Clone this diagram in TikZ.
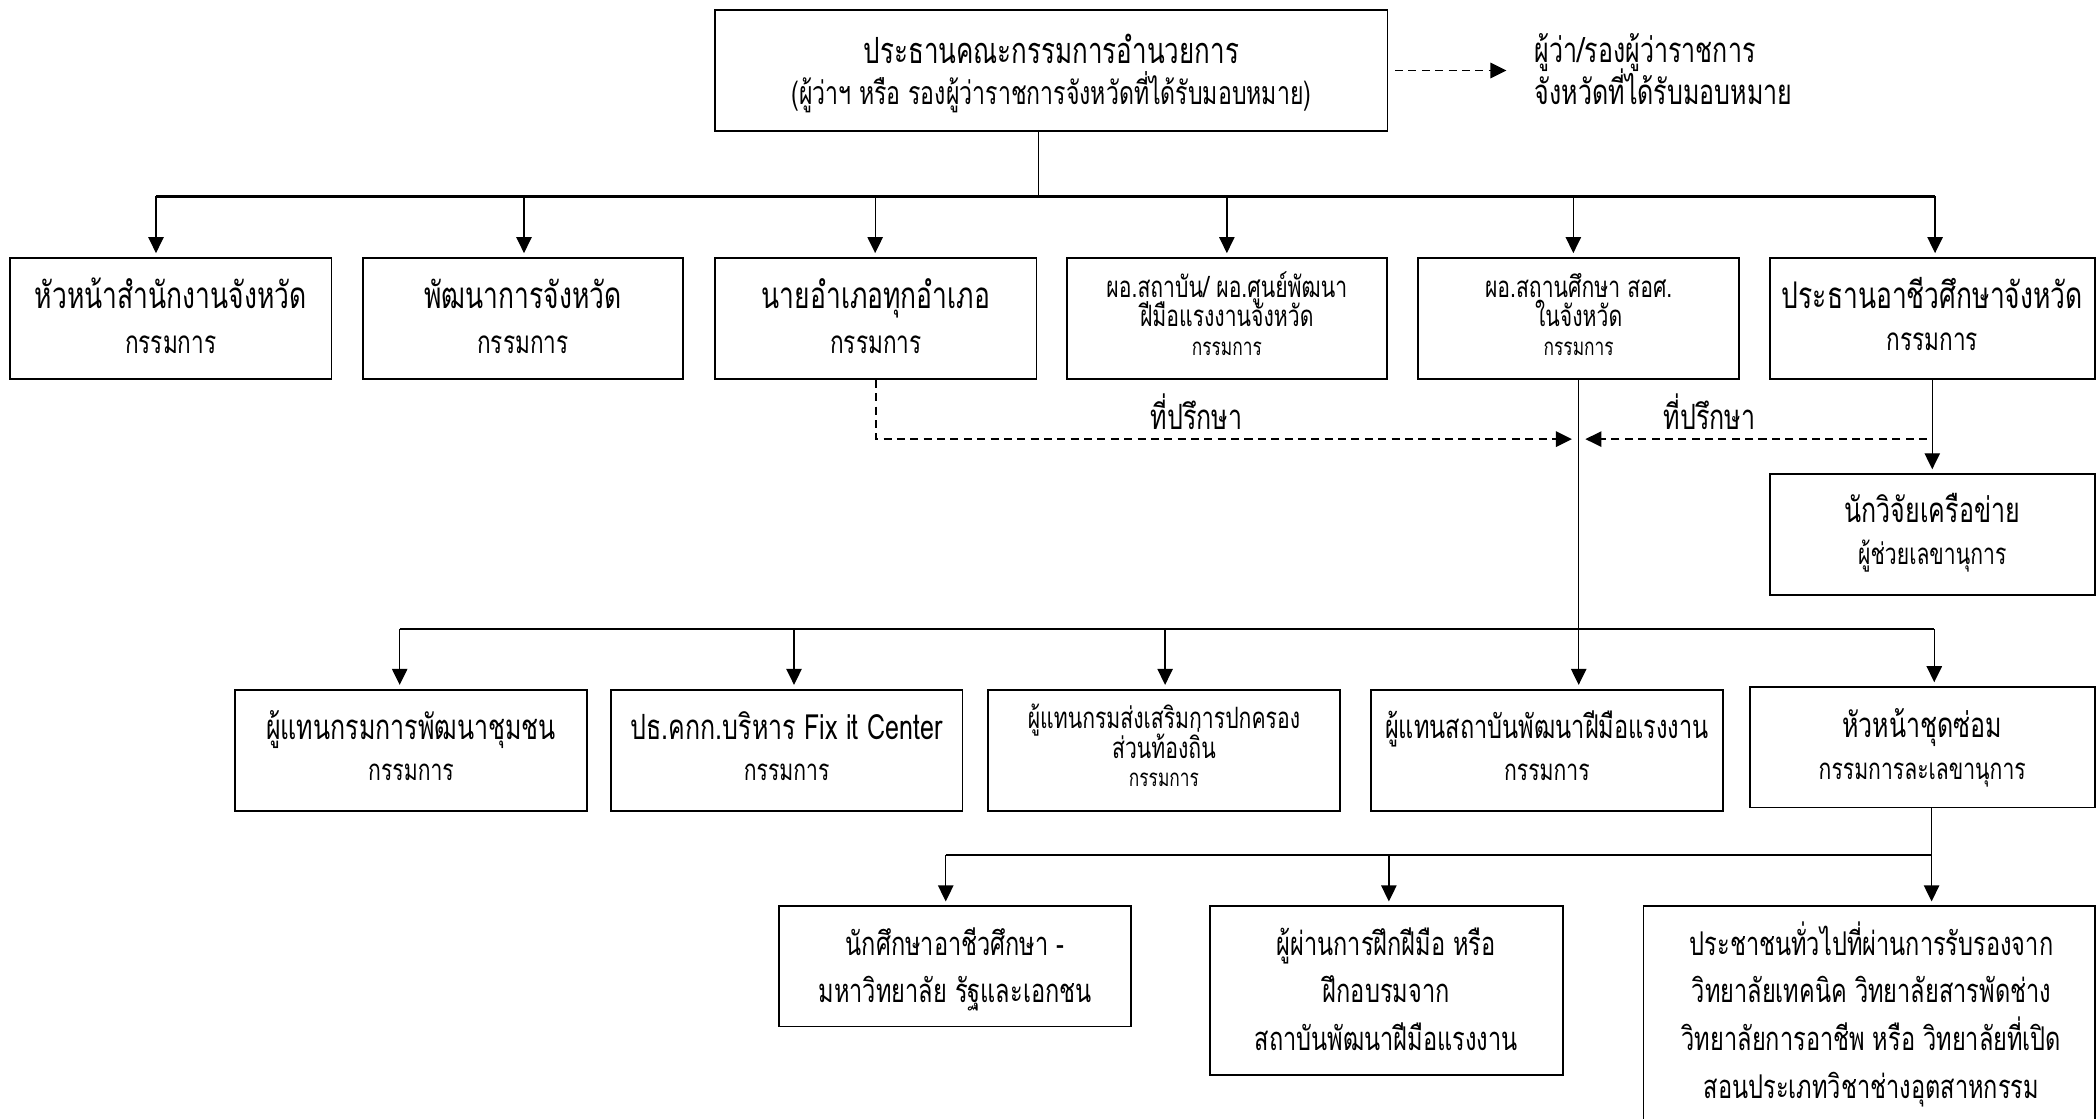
\documentclass[tikz,border=0pt]{standalone}
\usepackage{fontspec}
\setmainfont[Script=Thai,FakeStretch=0.72]{Loma}
\usetikzlibrary{arrows.meta}
\newcommand\szBB{\fontsize{27.5}{31}\selectfont}
\newcommand\szB{\fontsize{26}{30}\selectfont}
\newcommand\szR{\fontsize{24.5}{28}\selectfont}
\newcommand\szMM{\fontsize{23.5}{27}\selectfont}
\newcommand\szM{\fontsize{22}{26}\selectfont}
\newcommand\szS{\fontsize{18}{22}\selectfont}
\tikzset{
  box/.style={draw, line width=1.25pt, inner sep=0pt},
  tBB/.style={font=\szBB, inner sep=0pt, text height=20pt, text depth=0pt},
  tB/.style={font=\szB, inner sep=0pt, text height=19pt, text depth=0pt},
  tR/.style={font=\szR, inner sep=0pt, text height=18pt, text depth=0pt},
  tMM/.style={font=\szMM, inner sep=0pt, text height=17pt, text depth=0pt},
  tM/.style={font=\szM, inner sep=0pt, text height=16pt, text depth=0pt},
  tS/.style={font=\szS, inner sep=0pt, text height=13pt, text depth=0pt},
  conn/.style={line width=1pt},
  busl/.style={line width=1.6pt},
  arr/.style={line width=1pt, -{Triangle[length=12pt,width=11.5pt]}, shorten >=3pt},
  darr/.style={line width=1.2pt, dash pattern=on 6pt off 4pt, -{Triangle[length=12pt,width=11.5pt]}},
}
\begin{document}
\begin{tikzpicture}[x=1pt,y=-1pt]
\useasboundingbox (0,0) rectangle (1568,837);
\clip (0,0) rectangle (1568,837);
\fill[white] (0,0) rectangle (1568,837);

% top box
\node[box, minimum width=503pt, minimum height=90.5pt] (top) at (786.5,52.75) {};
\node[tBB, font=\fontsize{27}{31}\selectfont] (topa) at (786.5,37.5) {ประธานคณะกรรมการอำนวยการ};
\node[tMM, font=\fontsize{24}{28}\selectfont] (topb) at (786.5,70) {(ผู้ว่าฯ หรือ รองผู้ว่าราชการจังหวัดที่ได้รับมอบหมาย)};
\node[tB, anchor=west] (g1) at (1148,37.5) {ผู้ว่า/รองผู้ว่าราชการ};
\node[tB, anchor=west] (g2) at (1148,69) {จังหวัดที่ได้รับมอบหมาย};
\draw[darr] ([xshift=5pt]top.east) -- ([xshift=-21pt]g1.west |- top.east);

% row 1
\node[box, minimum width=240.5pt, minimum height=90.6pt] (b1) at (127.75,238.3) {};
\node[box, minimum width=239.5pt, minimum height=90.6pt] (b2) at (391.25,238.3) {};
\node[box, minimum width=240.5pt, minimum height=90.6pt] (b3) at (655.25,238.3) {};
\node[box, minimum width=239.5pt, minimum height=90.6pt] (b4) at (917.75,238.3) {};
\node[box, minimum width=240pt, minimum height=90.6pt] (b5) at (1181,238.3) {};
\node[box, minimum width=243pt, minimum height=90.6pt] (b6) at (1445.5,238.3) {};
\node[tBB] (b1a) at (127.75,221) {หัวหน้าสำนักงานจังหวัด};
\node[tMM] (b1b) at (127.75,256) {กรรมการ};
\node[tBB] (b2a) at (391.25,221) {พัฒนาการจังหวัด};
\node[tMM] (b2b) at (391.25,256) {กรรมการ};
\node[tBB] (b3a) at (655.25,221) {นายอำเภอทุกอำเภอ};
\node[tMM] (b3b) at (655.25,256) {กรรมการ};
\node[tM] (b4a) at (917.75,214.5) {ผอ.สถาบัน/ ผอ.ศูนย์พัฒนา};
\node[tM] (b4b) at (917.75,236) {ฝีมือแรงงานจังหวัด};
\node[tS] (b4c) at (917.75,259.4) {กรรมการ};
\node[tM] (b5a) at (1181,214.5) {ผอ.สถานศึกษา สอศ.};
\node[tM] (b5b) at (1181,236) {ในจังหวัด};
\node[tS] (b5c) at (1181,259.4) {กรรมการ};
\node[tBB] (b6a) at (1445.5,221) {ประธานอาชีวศึกษาจังหวัด};
\node[tMM] (b6b) at (1445.5,254) {กรรมการ};

% bus 1
\coordinate (a1) at (116.7,147);
\coordinate (a2) at (392,147);
\coordinate (a3) at (654.7,147);
\coordinate (a4) at (917.8,147);
\coordinate (a5) at (1177,147);
\coordinate (a6) at (1447.6,147);
\draw[conn] ([xshift=-9.5pt]top.south) -- ++(0,49);
\draw[busl] (a1) -- (a6);
\draw[arr] (a1) -- (a1 |- b1.north);
\draw[arr] (a2) -- (a2 |- b2.north);
\draw[arr] (a3) -- (a3 |- b3.north);
\draw[arr] (a4) -- (a4 |- b4.north);
\draw[arr] (a5) -- (a5 |- b5.north);
\draw[arr] (a6) -- (a6 |- b6.north);

% advisers
\node[box, minimum width=243pt, minimum height=90.3pt] (n1) at (1445.5,399.85) {};
\node[tB] (n1a) at (1445.5,381.5) {นักวิจัยเครือข่าย};
\node[tM] (n1b) at (1445.5,414) {ผู้ช่วยเลขานุการ};
\draw[arr] (b6.south) -- (n1.north);
\coordinate (q1) at (1176,328.5);
\coordinate (q2) at (1186,328.5);
\draw[darr] (b3.south) |- (q1);
\draw[darr] ([xshift=-4pt]b6.south |- q2) -- (q2);
\node[tB] (adv1) at (895,311.5) {ที่ปรึกษา};
\node[tB] (adv2) at (1279,311.5) {ที่ปรึกษา};

% row 2
\node[box, minimum width=263pt, minimum height=90.5pt] (r1) at (307.5,561.25) {};
\node[box, minimum width=263pt, minimum height=90.5pt] (r2) at (588.5,561.25) {};
\node[box, minimum width=263.5pt, minimum height=90.5pt] (r3) at (870.75,561.25) {};
\node[box, minimum width=263.5pt, minimum height=90.5pt] (r4) at (1157.25,561.25) {};
\node[box, minimum width=258pt, minimum height=90pt] (r5) at (1438,559) {};
\node[tB] (r1a) at (307.5,543.5) {ผู้แทนกรมการพัฒนาชุมชน};
\node[tM] (r1b) at (307.5,576) {กรรมการ};
\node[tB] (r2a) at (588.5,543.5) {ปธ.คกก.บริหาร Fix it Center};
\node[tM] (r2b) at (588.5,576) {กรรมการ};
\node[tM] (r3a) at (870.75,537) {ผู้แทนกรมส่งเสริมการปกครอง};
\node[tM] (r3b) at (870.75,559.5) {ส่วนท้องถิ่น};
\node[tS] (r3c) at (870.75,582) {กรรมการ};
\node[tR] (r4a) at (1157.25,543.5) {ผู้แทนสถาบันพัฒนาฝีมือแรงงาน};
\node[tM] (r4b) at (1157.25,576) {กรรมการ};
\node[tB] (r5a) at (1438,542) {หัวหน้าชุดซ่อม};
\node[tM] (r5b) at (1438,575) {กรรมการละเลขานุการ};

% bus 2
\coordinate (d1) at (299,470.7);
\coordinate (d2) at (594,470.7);
\coordinate (d3) at (871.6,470.7);
\coordinate (d4) at (1181,470.7);
\coordinate (d5) at (1447,470.7);
\draw[conn] (b5.south) -- (d4);
\draw[busl] (d1) -- (d5);
\draw[arr] (d1) -- (d1 |- r1.north);
\draw[arr] (d2) -- (d2 |- r2.north);
\draw[arr] (d3) -- (d3 |- r3.north);
\draw[arr] (d4) -- (d4 |- r4.north);
\draw[arr] (d5) -- (d5 |- r5.north);

% row 3
\node[box, minimum width=263pt, minimum height=90pt] (c1) at (714.5,723) {};
\node[box, minimum width=264pt, minimum height=126pt] (c2) at (1037,741) {};
\node[box, minimum width=337.5pt, minimum height=164pt] (c3) at (1398.25,760) {};
\node[tR] (c1a) at (714.5,705.6) {นักศึกษาอาชีวศึกษา -};
\node[tR] (c1b) at (714.5,740.6) {มหาวิทยาลัย รัฐและเอกชน};
\node[tR] (c2a) at (1037,705.6) {ผู้ผ่านการฝึกฝีมือ หรือ};
\node[tR] (c2b) at (1037,740.6) {ฝึกอบรมจาก};
\node[tR] (c2c) at (1037,776.8) {สถาบันพัฒนาฝีมือแรงงาน};
\node[tR] (c3a) at (1400,706) {ประชาชนทั่วไปที่ผ่านการรับรองจาก};
\node[tR] (c3b) at (1400,741) {วิทยาลัยเทคนิค วิทยาลัยสารพัดช่าง};
\node[tR] (c3c) at (1400,777) {วิทยาลัยการอาชีพ หรือ วิทยาลัยที่เปิด};
\node[tR] (c3d) at (1400,813) {สอนประเภทวิชาช่างอุตสาหกรรม};

% bus 3
\coordinate (e1) at (707.5,639.6);
\coordinate (e2) at (1039,639.6);
\coordinate (e3) at (1445,639.6);
\draw[conn] (r5.south -| e3) -- (e3);
\draw[busl] (e1) -- (e3);
\draw[arr] (e1) -- (e1 |- c1.north);
\draw[arr] (e2) -- (e2 |- c2.north);
\draw[arr] (e3) -- (e3 |- c3.north);
\end{tikzpicture}
\end{document}
